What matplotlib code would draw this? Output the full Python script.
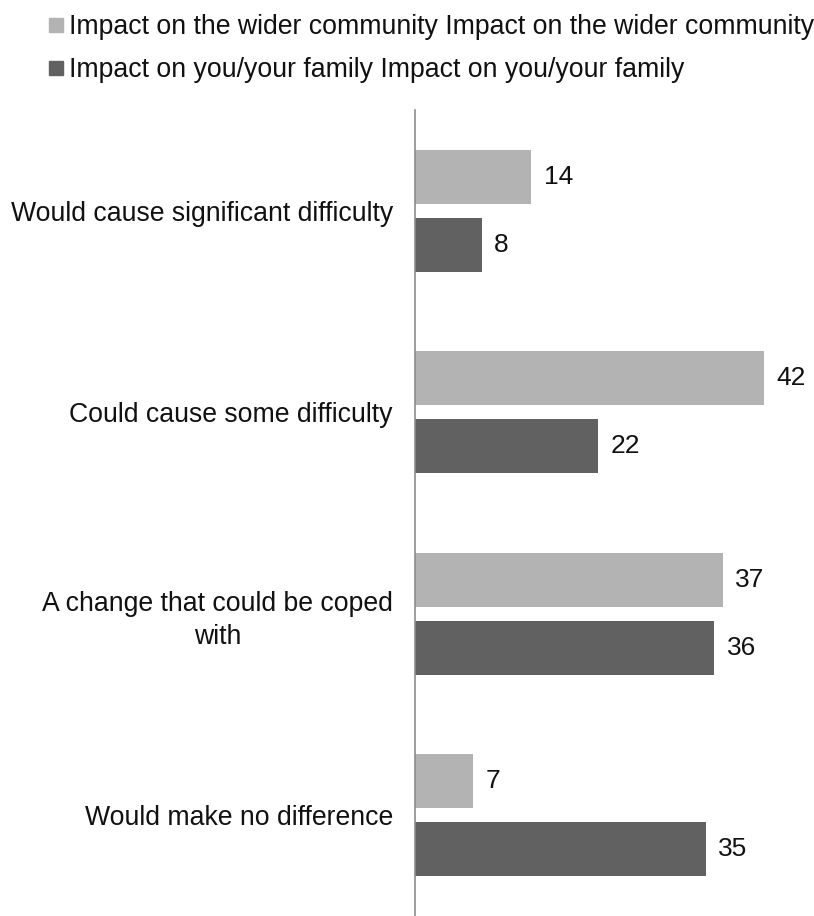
import matplotlib
matplotlib.use("Agg")
import matplotlib.pyplot as plt
import numpy as np
from matplotlib.lines import Line2D

plt.rcParams['font.family'] = ['Liberation Sans', 'DejaVu Sans']

categories = ["Would cause significant difficulty",
              "Could cause some difficulty",
              "A change that could be coped\nwith",
              "Would make no difference"]
series_names = ["Impact on the wider community Impact on the wider community",
                "Impact on you/your family Impact on you/your family"]
wider = [14, 42, 37, 7]
family = [8, 22, 36, 35]
colors = ["#b3b3b3", "#616161"]

fig = plt.figure(figsize=(8.14, 9.16), dpi=100)
W, H = 814, 916
ax = fig.add_axes([415 / W, 0, 1 - 415 / W, 1 - 110 / H])

y = np.arange(len(categories))
h = 0.268
off = 0.169
ax.barh(y - off, wider, height=h, color=colors[0])
ax.barh(y + off, family, height=h, color=colors[1])

for yi, v in zip(y, wider):
    ax.text(v + 1.5, yi - off, str(v), va='center', ha='left', fontsize=19, color='#111111')
for yi, v in zip(y, family):
    ax.text(v + 1.5, yi + off, str(v), va='center', ha='left', fontsize=19, color='#111111')

ax.set_xlim(0, 48)
ax.set_ylim(3.5, -0.5)
ax.set_yticks(y)
ax.set_yticklabels(categories, fontsize=19.2, color='#111111', multialignment='center',
                   linespacing=1.36)
ax.tick_params(axis='y', length=0, pad=16)
ax.set_xticks([])
for s in ['top', 'right', 'bottom']:
    ax.spines[s].set_visible(False)
ax.spines['left'].set_color('#8c8c8c')
ax.spines['left'].set_linewidth(1.2)

handles = [Line2D([], [], marker='s', linestyle='none', markersize=9.5, color=c) for c in colors]
fig.legend(handles, series_names, loc='upper left', bbox_to_anchor=(0.039, 0.996),
           frameon=False, fontsize=19.2, handletextpad=0.0, labelspacing=0.62,
           borderaxespad=0.0, handlelength=1.0, labelcolor='#111111')

fig.savefig("out.png", dpi=100)
